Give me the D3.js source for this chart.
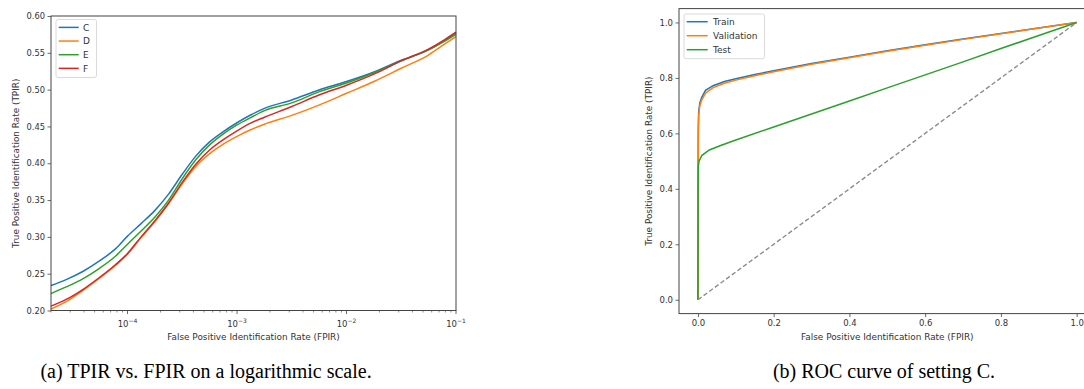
<!DOCTYPE html>
<html>
<head>
<meta charset="utf-8">
<script src="https://cdn.jsdelivr.net/npm/d3@7"></script>
<style>
  html, body { margin: 0; padding: 0; background: #fff; }
  svg { display: block; font-family: "DejaVu Sans", sans-serif; }
</style>
</head>
<body>
<svg id="chart" width="1084" height="389"></svg>
<script>
// ---------- Data: left chart (log scale) ----------
const fpirLog = [2e-5, 2.75e-5, 3.9e-5, 5.5e-5, 7.8e-5, 1e-4, 1.33e-4, 1.78e-4, 2.37e-4, 3.16e-4, 4.22e-4, 5.62e-4, 7.5e-4, 1e-3, 1.33e-3, 1.78e-3, 3.16e-3, 5.6e-3, 1e-2, 1.78e-2, 3.16e-2, 5.6e-2, 7.9e-2, 0.1];
const tpirC = [0.234, 0.242, 0.253, 0.267, 0.284, 0.301, 0.318, 0.336, 0.358, 0.385, 0.410, 0.429, 0.443, 0.455, 0.4655, 0.4745, 0.486, 0.4995, 0.511, 0.524, 0.540, 0.554, 0.567, 0.577];
const tpirD = [0.202, 0.212, 0.227, 0.2435, 0.2615, 0.2765, 0.299, 0.321, 0.345, 0.372, 0.396, 0.413, 0.426, 0.4365, 0.4455, 0.453, 0.465, 0.479, 0.495, 0.511, 0.529, 0.547, 0.562, 0.572];
const tpirE = [0.223, 0.232, 0.243, 0.257, 0.274, 0.290, 0.308, 0.327, 0.350, 0.379, 0.405, 0.425, 0.440, 0.452, 0.462, 0.4715, 0.482, 0.497, 0.509, 0.523, 0.539, 0.554, 0.566, 0.575];
const tpirF = [0.206, 0.215, 0.2285, 0.2445, 0.2625, 0.2775, 0.300, 0.322, 0.346, 0.374, 0.399, 0.418, 0.432, 0.444, 0.4545, 0.4625, 0.477, 0.4927, 0.506, 0.521, 0.539, 0.555, 0.568, 0.578];
const leftSeriesNames = ["C", "D", "E", "F"];
const leftYTicks = [0.20, 0.25, 0.30, 0.35, 0.40, 0.45, 0.50, 0.55, 0.60];
const leftXTicks = [1e-4, 1e-3, 1e-2, 1e-1];

// ---------- Data: right chart (ROC) ----------
const fprTrain = [0, 0.0005, 0.001, 0.002, 0.005, 0.01, 0.02, 0.04, 0.07, 0.1, 0.15, 0.2, 0.3, 0.4, 0.5, 0.6, 0.7, 0.8, 0.9, 1.0];
const tprTrain = [0, 0.45, 0.62, 0.68, 0.71, 0.73, 0.755, 0.772, 0.787, 0.797, 0.812, 0.826, 0.852, 0.875, 0.898, 0.92, 0.94, 0.96, 0.98, 1.0];
const tprValidation = [0, 0.43, 0.60, 0.665, 0.70, 0.72, 0.745, 0.765, 0.781, 0.792, 0.808, 0.822, 0.849, 0.873, 0.896, 0.918, 0.939, 0.959, 0.98, 1.0];
const fprTest = [0, 0.0005, 0.001, 0.003, 0.01, 0.03, 0.06, 0.1, 0.2, 0.3, 0.4, 0.5, 0.6, 0.7, 0.8, 0.9, 1.0];
const tprTest = [0, 0.40, 0.48, 0.50, 0.52, 0.54, 0.556, 0.576, 0.623, 0.670, 0.717, 0.764, 0.811, 0.858, 0.906, 0.953, 1.0];
const chanceLine = [0, 1];
const rightSeriesNames = ["Train", "Validation", "Test"];
const rightTicks = [0.0, 0.2, 0.4, 0.6, 0.8, 1.0];

const xLabelText = "False Positive Identification Rate (FPIR)";
const yLabelText = "True Positive Identification Rate (TPIR)";
const captionA = "(a) TPIR vs. FPIR on a logarithmic scale.";
const captionB = "(b) ROC curve of setting C.";

const colors = ["#1f77b4", "#ff7f0e", "#2ca02c", "#d62728"];
const svg = d3.select("#chart");
const tickColor = "#333";
const spineColor = "#444";

// ================= LEFT CHART =================
const L = { left: 51, right: 456, top: 16, bottom: 310.5 };
const xL = d3.scaleLog().domain([2e-5, 0.1]).range([L.left, L.right]);
const yL = d3.scaleLinear().domain([0.2, 0.6]).range([L.bottom, L.top]);
const gL = svg.append("g");

const minorTicks = [];
for (let e = -5; e <= -2; e++) for (let m = 2; m <= 9; m++) {
  const v = m * Math.pow(10, e);
  if (v >= 2e-5 && v <= 0.1) minorTicks.push(v);
}
gL.append("g").selectAll("line").data(minorTicks).join("line")
  .attr("x1", d => xL(d)).attr("x2", d => xL(d))
  .attr("y1", L.bottom).attr("y2", L.bottom + 2)
  .attr("stroke", spineColor).attr("stroke-width", 0.6);

const xMaj = gL.append("g").selectAll("g").data(leftXTicks).join("g")
  .attr("transform", d => `translate(${xL(d)},${L.bottom})`);
xMaj.append("line").attr("y2", 3.5).attr("stroke", spineColor).attr("stroke-width", 0.8);
xMaj.append("text").attr("y", 16).attr("text-anchor", "middle")
  .attr("font-size", 8.5).attr("fill", tickColor)
  .each(function(d) {
    const t = d3.select(this);
    t.append("tspan").text("10");
    t.append("tspan").attr("font-size", 6).attr("dy", -3.5).text("\u2212" + Math.round(-Math.log10(d)));
  });

const yAxL = d3.axisLeft(yL).tickValues(leftYTicks).tickFormat(d3.format(".2f")).tickSize(3.5).tickPadding(2.5);
const gyL = gL.append("g").attr("transform", `translate(${L.left},0)`).call(yAxL);
gyL.select(".domain").remove();
gyL.selectAll("line").attr("stroke", spineColor).attr("stroke-width", 0.8);
gyL.selectAll("text").attr("font-size", 8.3).attr("fill", tickColor).attr("font-family", "DejaVu Sans");

const leftSeries = [tpirC, tpirD, tpirE, tpirF];
const lineL = d3.line().x((d, i) => xL(fpirLog[i])).y(d => yL(d)).curve(d3.curveMonotoneX);
leftSeries.forEach((s, k) => {
  gL.append("path").datum(s).attr("d", lineL)
    .attr("fill", "none").attr("stroke", colors[k]).attr("stroke-width", 1.5);
});

gL.append("rect").attr("x", L.left).attr("y", L.top)
  .attr("width", L.right - L.left).attr("height", L.bottom - L.top)
  .attr("fill", "none").attr("stroke", spineColor).attr("stroke-width", 1);

const legL = gL.append("g");
legL.append("rect").attr("x", 56).attr("y", 19.5).attr("width", 40.5).attr("height", 58)
  .attr("rx", 2).attr("fill", "#fff").attr("fill-opacity", 0.85).attr("stroke", "#d0d0d0").attr("stroke-width", 0.8);
leftSeriesNames.forEach((n, k) => {
  const yy = 27.4 + k * 13.65;
  legL.append("line").attr("x1", 58.7).attr("x2", 78.7).attr("y1", yy).attr("y2", yy)
    .attr("stroke", colors[k]).attr("stroke-width", 1.5);
  legL.append("text").attr("x", 83).attr("y", yy + 3.2).attr("font-size", 9).attr("fill", tickColor).text(n);
});

gL.append("text").attr("x", (L.left + L.right) / 2).attr("y", 340).attr("text-anchor", "middle")
  .attr("font-size", 8.9).attr("fill", tickColor).text(xLabelText);
gL.append("text").attr("transform", `translate(19,${(L.top + L.bottom) / 2}) rotate(-90)`)
  .attr("text-anchor", "middle").attr("font-size", 8.9).attr("fill", tickColor).text(yLabelText);

// ================= RIGHT CHART =================
const R = { left: 679, right: 1095.6, top: 8.6, bottom: 313.6 };
const xR = d3.scaleLinear().domain([-0.05, 1.05]).range([R.left, R.right]);
const yR = d3.scaleLinear().domain([-0.05, 1.05]).range([R.bottom, R.top]);
const gR = svg.append("g");

const xAxR = d3.axisBottom(xR).tickValues(rightTicks).tickFormat(d3.format(".1f")).tickSize(3.5).tickPadding(3);
const gxR = gR.append("g").attr("transform", `translate(0,${R.bottom})`).call(xAxR);
gxR.select(".domain").remove();
gxR.selectAll("line").attr("stroke", spineColor).attr("stroke-width", 0.8);
gxR.selectAll("text").attr("font-size", 8.5).attr("fill", tickColor).attr("font-family", "DejaVu Sans");

const yAxR = d3.axisLeft(yR).tickValues(rightTicks).tickFormat(d3.format(".1f")).tickSize(3.5).tickPadding(2.5);
const gyR = gR.append("g").attr("transform", `translate(${R.left},0)`).call(yAxR);
gyR.select(".domain").remove();
gyR.selectAll("line").attr("stroke", spineColor).attr("stroke-width", 0.8);
gyR.selectAll("text").attr("font-size", 8.5).attr("fill", tickColor).attr("font-family", "DejaVu Sans");

const lineTrain = d3.line().x((d, i) => xR(fprTrain[i])).y(d => yR(d));
const lineTest = d3.line().x((d, i) => xR(fprTest[i])).y(d => yR(d));
gR.append("path").datum(tprTrain).attr("d", lineTrain).attr("fill", "none").attr("stroke", colors[0]).attr("stroke-width", 1.5);
gR.append("path").datum(tprValidation).attr("d", lineTrain).attr("fill", "none").attr("stroke", colors[1]).attr("stroke-width", 1.5);
gR.append("path").datum(tprTest).attr("d", lineTest).attr("fill", "none").attr("stroke", colors[2]).attr("stroke-width", 1.5);
gR.append("line").attr("x1", xR(chanceLine[0])).attr("y1", yR(chanceLine[0]))
  .attr("x2", xR(chanceLine[1])).attr("y2", yR(chanceLine[1]))
  .attr("stroke", "#8c8c8c").attr("stroke-width", 1.4).attr("stroke-dasharray", "4.5,2.5");

gR.append("rect").attr("x", R.left).attr("y", R.top)
  .attr("width", R.right - R.left).attr("height", R.bottom - R.top)
  .attr("fill", "none").attr("stroke", spineColor).attr("stroke-width", 1);

const legR = gR.append("g");
legR.append("rect").attr("x", 684).attr("y", 14).attr("width", 80.5).attr("height", 44.7)
  .attr("rx", 2).attr("fill", "#fff").attr("fill-opacity", 0.85).attr("stroke", "#d0d0d0").attr("stroke-width", 0.8);
rightSeriesNames.forEach((n, k) => {
  const yy = 21.7 + k * 14;
  legR.append("line").attr("x1", 686.7).attr("x2", 707.7).attr("y1", yy).attr("y2", yy)
    .attr("stroke", colors[k]).attr("stroke-width", 1.5);
  legR.append("text").attr("x", 713).attr("y", yy + 3.2).attr("font-size", 9).attr("fill", tickColor).text(n);
});

gR.append("text").attr("x", (R.left + R.right) / 2).attr("y", 340).attr("text-anchor", "middle")
  .attr("font-size", 8.9).attr("fill", tickColor).text(xLabelText);
gR.append("text").attr("transform", `translate(652,${(R.top + R.bottom) / 2}) rotate(-90)`)
  .attr("text-anchor", "middle").attr("font-size", 8.9).attr("fill", tickColor).text(yLabelText);

// ================= CAPTIONS =================
svg.append("text").attr("x", 206).attr("y", 378).attr("text-anchor", "middle")
  .style("font-family", "'Liberation Serif', 'Times New Roman', serif").attr("font-size", 20).attr("fill", "#000").text(captionA);
svg.append("text").attr("x", 884).attr("y", 378).attr("text-anchor", "middle")
  .style("font-family", "'Liberation Serif', 'Times New Roman', serif").attr("font-size", 20).attr("fill", "#000").text(captionB);
</script>
</body>
</html>
